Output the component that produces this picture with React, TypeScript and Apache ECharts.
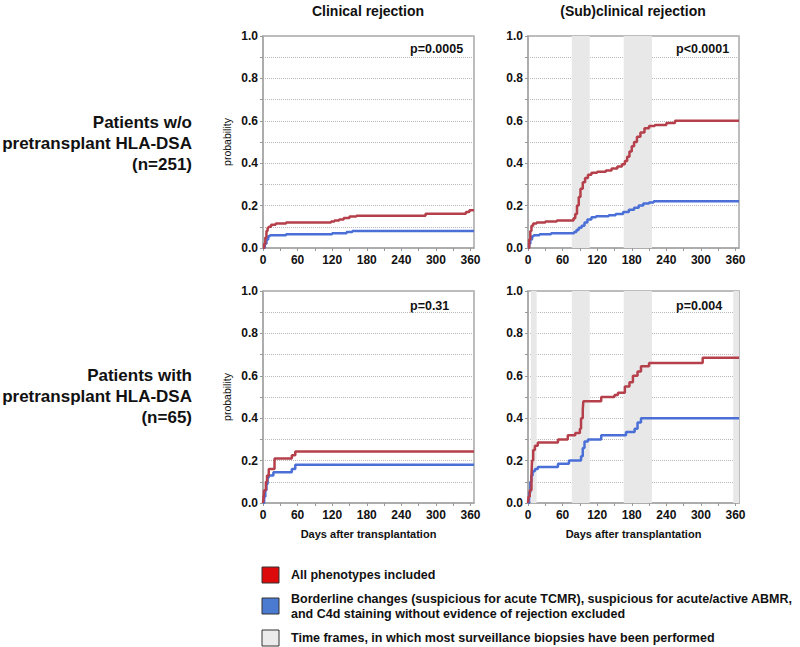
import React, { useEffect, useRef } from "react";
import * as echarts from "echarts";

const FONT = "'Liberation Sans', Arial, Helvetica, sans-serif";

// ---- data: [day, cumulative probability] ----
const clinNoDsaAll: [number, number][] = [
  [0, 0], [2, 0.02], [4, 0.05], [6, 0.08], [8, 0.095], [10, 0.1], [14, 0.11], [22, 0.115], [40, 0.12],
  [118, 0.125], [124, 0.13], [132, 0.135], [140, 0.142], [150, 0.148], [162, 0.152], [282, 0.162],
  [352, 0.17], [358, 0.178], [366, 0.178],
];
const clinNoDsaExcl: [number, number][] = [
  [0, 0], [3, 0.02], [6, 0.04], [9, 0.055], [12, 0.06], [40, 0.065], [120, 0.07], [145, 0.075],
  [155, 0.08], [366, 0.08],
];
const subNoDsaAll: [number, number][] = [
  [0, 0], [2, 0.04], [4, 0.08], [6, 0.105], [9, 0.115], [15, 0.12], [30, 0.125], [50, 0.13],
  [79, 0.14], [82, 0.16], [85, 0.2], [88, 0.24], [91, 0.28], [95, 0.31], [99, 0.33], [104, 0.345],
  [110, 0.355], [120, 0.36], [135, 0.365], [145, 0.375], [155, 0.385], [163, 0.395], [168, 0.41],
  [172, 0.43], [176, 0.455], [180, 0.48], [184, 0.5], [189, 0.525], [195, 0.545], [202, 0.565],
  [210, 0.575], [220, 0.58], [240, 0.59], [255, 0.6], [366, 0.6],
];
const subNoDsaExcl: [number, number][] = [
  [0, 0], [2, 0.02], [4, 0.04], [7, 0.055], [10, 0.06], [20, 0.065], [40, 0.07], [80, 0.075],
  [84, 0.085], [88, 0.095], [93, 0.105], [98, 0.12], [103, 0.135], [110, 0.145], [118, 0.15],
  [140, 0.155], [152, 0.16], [165, 0.17], [175, 0.18], [184, 0.19], [192, 0.2], [200, 0.21],
  [210, 0.215], [218, 0.22], [366, 0.22],
];
const clinDsaAll: [number, number][] = [
  [0, 0], [1, 0.03], [2, 0.06], [5, 0.1], [7, 0.13], [10, 0.16], [20, 0.21], [50, 0.225],
  [56, 0.243], [366, 0.243],
];
const clinDsaExcl: [number, number][] = [
  [0, 0], [2, 0.03], [4, 0.06], [6, 0.09], [8, 0.12], [10, 0.13], [18, 0.145], [50, 0.16],
  [56, 0.18], [366, 0.18],
];
const subDsaAll: [number, number][] = [
  [0, 0], [1, 0.03], [3, 0.06], [6, 0.13], [7, 0.2], [9, 0.25], [12, 0.27], [17, 0.285], [52, 0.3],
  [69, 0.32], [82, 0.33], [90, 0.35], [92, 0.4], [95, 0.44], [96, 0.48], [127, 0.5], [150, 0.51],
  [156, 0.52], [168, 0.55], [176, 0.57], [182, 0.6], [190, 0.62], [196, 0.645], [210, 0.66],
  [303, 0.685], [366, 0.685],
];
const subDsaExcl: [number, number][] = [
  [0, 0], [2, 0.05], [4, 0.1], [6, 0.13], [8, 0.15], [12, 0.16], [17, 0.17], [52, 0.185],
  [71, 0.2], [92, 0.22], [95, 0.26], [98, 0.29], [104, 0.3], [127, 0.32], [170, 0.335],
  [185, 0.35], [190, 0.38], [196, 0.4], [366, 0.4],
];

// biopsy time frames (days)
const bandsNoDsa: [number, number][] = [[76, 107], [166, 215]];
const bandsDsa: [number, number][] = [[5, 15], [76, 107], [166, 215], [356, 366]];

const pValues = ["p=0.0005", "p<0.0001", "p=0.31", "p=0.004"];
const colTitles = ["Clinical rejection", "(Sub)clinical rejection"];
const rowLabels = [
  ["Patients w/o", "pretransplant HLA-DSA", "(n=251)"],
  ["Patients with", "pretransplant HLA-DSA", "(n=65)"],
];
const xLabelTicks = [0, 60, 120, 180, 240, 300, 360];
const xMinorTicks = [0, 30, 60, 90, 120, 150, 180, 210, 240, 270, 300, 330, 360];
const yMinorTicks = [0, 0.1, 0.2, 0.3, 0.4, 0.5, 0.6, 0.7, 0.8, 0.9, 1.0];
const legendItems = [
  ["All phenotypes included"],
  [
    "Borderline changes (suspicious for acute TCMR), suspicious for acute/active ABMR,",
    "and C4d staining without evidence of rejection excluded",
  ],
  ["Time frames, in which most surveillance biopsies have been performed"],
];

const RED = "#b5404b";
const BLUE = "#4a6fd6";

const panels = [
  { all: clinNoDsaAll, excl: clinNoDsaExcl, bands: [] as [number, number][] },
  { all: subNoDsaAll, excl: subNoDsaExcl, bands: bandsNoDsa },
  { all: clinDsaAll, excl: clinDsaExcl, bands: [] as [number, number][] },
  { all: subDsaAll, excl: subDsaExcl, bands: bandsDsa },
];

const gridPos = [
  { left: 263, top: 36 },
  { left: 528, top: 36 },
  { left: 263, top: 291 },
  { left: 528, top: 291 },
];

export default function App() {
  const ref = useRef<HTMLDivElement>(null);
  useEffect(() => {
    if (!ref.current) return;
    const chart = echarts.init(ref.current, null, { renderer: "svg" });

    const grids = gridPos.map((g) => ({
      left: g.left,
      top: g.top,
      width: 211,
      height: 212,
      show: true,
      borderColor: "#a8a8a8",
      borderWidth: 1.5,
      backgroundColor: "transparent",
    }));

    const xAxes = gridPos.map((_, i) => ({
      type: "value",
      gridIndex: i,
      min: 0,
      max: 366,
      axisLine: { show: true, onZero: false, lineStyle: { color: "#a8a8a8", width: 1.5 } },
      axisTick: { show: true, customValues: xMinorTicks, length: 3, lineStyle: { color: "#999" } },
      axisLabel: {
        customValues: xLabelTicks,
        fontFamily: FONT,
        fontWeight: "bold",
        fontSize: 12,
        color: "#111",
        margin: 6,
      },
      splitLine: { show: false },
      name: i >= 2 ? "Days after transplantation" : "",
      nameLocation: "middle",
      nameGap: 25,
      nameTextStyle: { fontFamily: FONT, fontWeight: "bold", fontSize: 11, color: "#111" },
    }));

    const yAxes = gridPos.map((_, i) => ({
      type: "value",
      gridIndex: i,
      min: 0,
      max: 1,
      interval: 0.2,
      axisLine: { show: true, onZero: false, lineStyle: { color: "#a8a8a8", width: 1.5 } },
      axisTick: { show: true, customValues: yMinorTicks, length: 3, lineStyle: { color: "#999" } },
      axisLabel: {
        formatter: (v: number) => v.toFixed(1),
        fontFamily: FONT,
        fontWeight: "bold",
        fontSize: 12,
        color: "#111",
        margin: 5,
      },
      splitLine: { show: true, lineStyle: { type: "dotted", color: "#b8b8b8", width: 1 } },
      name: i % 2 === 0 ? "probability" : "",
      nameLocation: "middle",
      nameGap: 31,
      nameRotate: 90,
      nameTextStyle: { fontFamily: FONT, fontSize: 10.5, color: "#111" },
    }));

    const series: any[] = [];
    panels.forEach((p, i) => {
      series.push({
        type: "line",
        xAxisIndex: i,
        yAxisIndex: i,
        step: "end",
        showSymbol: false,
        data: p.excl,
        lineStyle: { color: BLUE, width: 2.5 },
        itemStyle: { color: BLUE },
        z: 3,
        markArea: p.bands.length
          ? {
              silent: true,
              itemStyle: { color: "#e8e8e8" },
              data: p.bands.map((b) => [{ xAxis: b[0] }, { xAxis: b[1] }]),
            }
          : undefined,
      });
      series.push({
        type: "line",
        xAxisIndex: i,
        yAxisIndex: i,
        step: "end",
        showSymbol: false,
        data: p.all,
        lineStyle: { color: RED, width: 2.5 },
        itemStyle: { color: RED },
        z: 4,
      });
    });

    const graphics: any[] = [];
    // column titles
    colTitles.forEach((t, c) => {
      graphics.push({
        type: "text",
        x: gridPos[c].left + 105,
        y: 11,
        style: {
          text: t,
          fontFamily: FONT,
          fontWeight: "bold",
          fontSize: 14,
          fill: "#111",
          textAlign: "center",
          textVerticalAlign: "middle",
        },
      });
    });
    // row labels
    rowLabels.forEach((lines, r) => {
      lines.forEach((t, k) => {
        graphics.push({
          type: "text",
          x: 192,
          y: (r === 0 ? 122 : 375) + k * 21,
          style: {
            text: t,
            fontFamily: FONT,
            fontWeight: "bold",
            fontSize: 17,
            fill: "#111",
            textAlign: "right",
            textVerticalAlign: "middle",
          },
        });
      });
    });
    // p-values
    pValues.forEach((t, i) => {
      graphics.push({
        type: "text",
        x: i % 2 === 0 ? 410 : 676,
        y: i < 2 ? 48.5 : 305.5,
        style: {
          text: t,
          fontFamily: FONT,
          fontWeight: "bold",
          fontSize: 12.5,
          fill: "#111",
          textAlign: "left",
          textVerticalAlign: "middle",
        },
      });
    });
    // legend
    const legendColors = ["#dc0a0a", "#4a7bd0", "#ebebeb"];
    const legendY = [575, 606, 638];
    legendItems.forEach((lines, k) => {
      graphics.push({
        type: "rect",
        shape: { x: 262, y: legendY[k] - 8, width: 17, height: 16 },
        style: { fill: legendColors[k], stroke: "#333", lineWidth: 1 },
      });
      lines.forEach((t, j) => {
        graphics.push({
          type: "text",
          x: 291,
          y: lines.length === 1 ? legendY[k] : legendY[k] - 7 + j * 15,
          style: {
            text: t,
            fontFamily: FONT,
            fontWeight: "bold",
            fontSize: 12.5,
            fill: "#111",
            textAlign: "left",
            textVerticalAlign: "middle",
          },
        });
      });
    });

    chart.setOption({
      animation: false,
      backgroundColor: "#ffffff",
      grid: grids,
      xAxis: xAxes,
      yAxis: yAxes,
      series,
      graphic: graphics,
    });
    return () => chart.dispose();
  }, []);

  return (
    <div
      ref={ref}
      style={{ position: "fixed", left: 0, top: 0, width: 800, height: 647, background: "#fff" }}
    />
  );
}
